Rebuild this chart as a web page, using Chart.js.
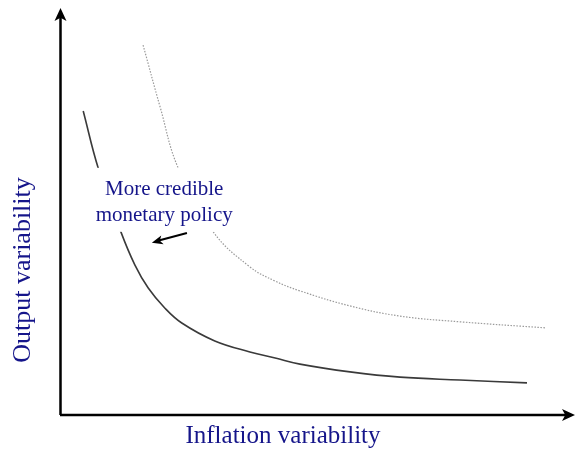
<!DOCTYPE html>
<html>
<head>
<meta charset="utf-8">
<script src="https://cdn.jsdelivr.net/npm/chart.js@4"></script>
<style>
  html, body { margin: 0; padding: 0; background: #fff; }
  canvas { display: block; }
</style>
</head>
<body>
<canvas id="grafico" width="576" height="450"></canvas>
<script>
// curve data (arbitrary units)
const xSolid = [0.45, 0.74, 1.18, 1.45, 1.71, 2.03, 2.36, 3.00, 3.68, 4.17, 4.65, 5.62, 6.59, 7.75, 9.05];
const ySolid = [7.47, 6.07, 4.50, 3.69, 3.12, 2.63, 2.26, 1.82, 1.55, 1.40, 1.25, 1.06, 0.93, 0.86, 0.79];

const xDotted = [1.61, 1.94, 2.29, 2.97, 3.68, 4.17, 4.65, 5.62, 6.59, 7.75, 9.42];
const yDotted = [9.09, 7.57, 6.07, 4.50, 3.64, 3.29, 3.05, 2.68, 2.43, 2.29, 2.14];

const xTitle = "Inflation variability";
const yTitle = "Output variability";
const noteLines = ["More credible", "monetary policy"];

// note + arrow positions in data units
const notePos = { x: 2.02, y: 5.41 };
const arrowFrom = { x: 2.46, y: 4.47 };
const arrowTo = { x: 1.78, y: 4.23 };

const azul = "#15158a";

function pontos(xs, ys) {
  return xs.map((x, i) => ({ x: x, y: ys[i] }));
}

function seta(ctx, x1, y1, x2, y2, tam, larg) {
  const ang = Math.atan2(y2 - y1, x2 - x1);
  ctx.save();
  ctx.translate(x2, y2);
  ctx.rotate(ang);
  ctx.beginPath();
  ctx.moveTo(0, 0);
  ctx.lineTo(-tam, -larg);
  ctx.lineTo(-tam * 0.75, 0);
  ctx.lineTo(-tam, larg);
  ctx.closePath();
  ctx.fill();
  ctx.restore();
}

// axes with arrows, titles and the note
const eixos = {
  id: "eixos",
  afterDatasetsDraw(chart) {
    const ctx = chart.ctx;
    const a = chart.chartArea;
    const sx = chart.scales.x;
    const sy = chart.scales.y;
    ctx.save();

    // white box behind the note (hides the curves there)
    const nx = sx.getPixelForValue(notePos.x);
    const ny = sy.getPixelForValue(notePos.y);
    ctx.fillStyle = "#fff";
    ctx.fillRect(nx - 71, ny - 27, 143, 64);

    ctx.strokeStyle = "#000";
    ctx.fillStyle = "#000";
    ctx.lineWidth = 2.5;
    ctx.beginPath();
    ctx.moveTo(a.left + 0.5, a.bottom);
    ctx.lineTo(a.left + 0.5, a.top + 6);
    ctx.moveTo(a.left, a.bottom);
    ctx.lineTo(a.right - 6, a.bottom);
    ctx.stroke();
    seta(ctx, a.left + 0.5, a.bottom, a.left + 0.5, a.top, 13, 6);
    seta(ctx, a.left, a.bottom, a.right - 1, a.bottom, 13, 6);

    // arrow of the note
    const x1 = sx.getPixelForValue(arrowFrom.x), y1 = sy.getPixelForValue(arrowFrom.y);
    const x2 = sx.getPixelForValue(arrowTo.x), y2 = sy.getPixelForValue(arrowTo.y);
    ctx.lineWidth = 2;
    ctx.beginPath();
    ctx.moveTo(x1, y1);
    ctx.lineTo(x2 + 6, y2 - 2);
    ctx.stroke();
    seta(ctx, x1, y1, x2, y2, 11, 4.5);

    // texts
    ctx.fillStyle = azul;
    ctx.textAlign = "center";
    ctx.textBaseline = "alphabetic";
    ctx.font = "21px 'Liberation Serif', 'DejaVu Serif', serif";
    noteLines.forEach((t, i) => ctx.fillText(t, nx, ny + i * 26));

    ctx.font = "25px 'Liberation Serif', 'DejaVu Serif', serif";
    ctx.fillText(xTitle, 283, 443);

    ctx.translate(30, 270);
    ctx.rotate(-Math.PI / 2);
    ctx.font = "26px 'Liberation Serif', 'DejaVu Serif', serif";
    ctx.fillText(yTitle, 0, 0);
    ctx.restore();
  }
};

new Chart(document.getElementById("grafico"), {
  type: "scatter",
  data: {
    datasets: [
      {
        data: pontos(xDotted, yDotted),
        showLine: true,
        borderColor: "#9a9a9a",
        borderWidth: 1.2,
        borderDash: [1.5, 1.5],
        pointRadius: 0,
        tension: 0.4
      },
      {
        data: pontos(xSolid, ySolid),
        showLine: true,
        borderColor: "#3a3a3a",
        borderWidth: 1.6,
        pointRadius: 0,
        tension: 0.4
      }
    ]
  },
  options: {
    responsive: false,
    animation: false,
    layout: { padding: { left: 60, right: 0, top: 8, bottom: 35 } },
    plugins: {
      legend: { display: false },
      tooltip: { enabled: false }
    },
    scales: {
      x: { type: "linear", min: 0, max: 10, display: false },
      y: { type: "linear", min: 0, max: 10, display: false }
    }
  },
  plugins: [eixos]
});
</script>
</body>
</html>
